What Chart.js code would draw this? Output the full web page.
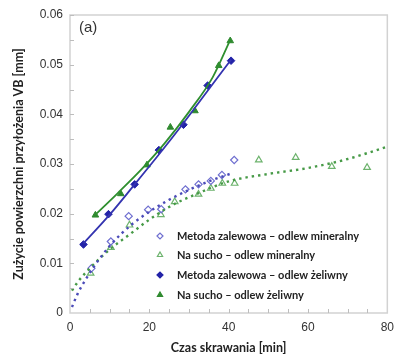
<!DOCTYPE html>
<html>
<head>
<meta charset="utf-8">
<script src="https://cdn.jsdelivr.net/npm/chart.js@4"></script>
<style>
  html, body { margin: 0; padding: 0; background: #fff; }
  #wrap { width: 401px; height: 358px; }
</style>
</head>
<body>
<div id="wrap"><canvas id="myChart" width="401" height="358"></canvas></div>
<script>
// punkty pomiarowe - odlew mineralny, metoda zalewowa
var minZalewX = [5.4, 10.3, 14.8, 19.7, 23.0, 29.1, 32.4, 35.5, 38.3, 41.4];
var minZalewY = [0.0090, 0.0144, 0.0195, 0.0208, 0.0209, 0.0249, 0.0259, 0.0266, 0.0278, 0.0308];
// odlew mineralny, na sucho
var minSuchoX = [5.2, 10.3, 15.0, 22.9, 26.4, 32.4, 35.5, 38.4, 41.5, 47.6, 56.9, 66.0, 74.9];
var minSuchoY = [0.0080, 0.0132, 0.0177, 0.0198, 0.0224, 0.0239, 0.0251, 0.0261, 0.0261, 0.0308, 0.0313, 0.0295, 0.0293];
// odlew zeliwny, metoda zalewowa
var zelZalewX = [3.4, 9.7, 16.3, 22.4, 28.6, 34.7, 40.6];
var zelZalewY = [0.0138, 0.0199, 0.0259, 0.0328, 0.0379, 0.0458, 0.0508];
// odlew zeliwny, na sucho
var zelSuchoX = [6.4, 12.8, 19.4, 25.3, 31.5, 37.5, 40.4];
var zelSuchoY = [0.0197, 0.0240, 0.0298, 0.0374, 0.0407, 0.0498, 0.0548];

// linie trendu
var trMinZalewX = [0.5, 2, 4, 6, 8, 10, 13, 16, 20, 25, 30, 35, 41];
var trMinZalewY = [0.0012, 0.0040, 0.0068, 0.0093, 0.0115, 0.0135, 0.0160, 0.0181, 0.0204, 0.0228, 0.0248, 0.0265, 0.0282];
var trMinSuchoX = [0.5, 2, 5, 10, 15, 20, 26, 32, 40, 50, 60, 70, 80];
var trMinSuchoY = [0.0045, 0.0063, 0.0090, 0.0128, 0.0158, 0.0188, 0.0218, 0.0240, 0.0265, 0.0280, 0.0292, 0.0310, 0.0335];
var trZelZalewX = [3.4, 10, 16, 22, 28, 34, 40.6];
var trZelZalewY = [0.0140, 0.0198, 0.0256, 0.0315, 0.0376, 0.0440, 0.0510];
var trZelSuchoX = [6.4, 12, 18, 24, 30, 36, 40.4];
var trZelSuchoY = [0.0198, 0.0241, 0.0289, 0.0343, 0.0405, 0.0475, 0.0550];

var xTicks = [0, 20, 40, 60, 80];
var yTicks = [0, 0.01, 0.02, 0.03, 0.04, 0.05, 0.06];

var etykiety = [
  'Metoda zalewowa \u2013 odlew mineralny',
  'Na sucho \u2013 odlew mineralny',
  'Metoda zalewowa \u2013 odlew \u017celiwny',
  'Na sucho \u2013 odlew \u017celiwny'
];

function pary(xs, ys) {
  return xs.map(function (x, i) { return { x: x, y: ys[i] }; });
}

var niebieski = '#2323a8';
var zielony = '#2f8a2f';
var niebJasny = '#6f6fd0';
var zielJasny = '#6db36d';

function linia(xs, ys, kolor, kropki) {
  return {
    type: 'line', data: pary(xs, ys), borderColor: kolor,
    borderWidth: kropki ? 2.4 : 1.8, borderDash: kropki ? [2.4, 4] : [],
    pointRadius: 0, tension: 0.4, cubicInterpolationMode: 'monotone', fill: false
  };
}

// ramka, male ticki i etykieta (a)
var ramka = {
  id: 'ramka',
  afterDraw: function (chart) {
    var c = chart.ctx, a = chart.chartArea;
    var sx = chart.scales.x, sy = chart.scales.y;
    c.save();
    c.strokeStyle = '#d2d2d2';
    c.lineWidth = 1.5;
    c.strokeRect(a.left, a.top, a.right - a.left, a.bottom - a.top);
    c.strokeStyle = '#bdbdbd';
    c.lineWidth = 1;
    for (var v = 5; v < 80; v += 5) {
      var px = Math.round(sx.getPixelForValue(v)) + 0.5;
      c.beginPath(); c.moveTo(px, a.bottom); c.lineTo(px, a.bottom - 4); c.stroke();
    }
    for (var w = 0.005; w < 0.06; w += 0.005) {
      var py = Math.round(sy.getPixelForValue(w)) + 0.5;
      c.beginPath(); c.moveTo(a.left, py); c.lineTo(a.left + 4, py); c.stroke();
    }
    c.fillStyle = '#333';
    c.font = '15px "Liberation Sans", Arial, sans-serif';
    c.textBaseline = 'middle';
    c.fillText('(a)', a.left + 9, a.top + 13);

    // legenda
    var mark = [
      { s: 'rectRot', k: niebJasny, f: false },
      { s: 'triangle', k: zielJasny, f: false },
      { s: 'rectRot', k: niebieski, f: true },
      { s: 'triangle', k: zielony, f: true }
    ];
    var ys = [236, 255, 275, 295];
    c.font = 'bold 11px Lato, "Open Sans", sans-serif';
    for (var i = 0; i < etykiety.length; i++) {
      c.fillStyle = mark[i].f ? mark[i].k : '#fff';
      c.strokeStyle = mark[i].k;
      c.lineWidth = 1.2;
      Chart.helpers.drawPoint(c, { pointStyle: mark[i].s, radius: 3, rotation: 0, borderWidth: 1.2 }, 160, ys[i]);
      c.fillStyle = '#222';
      c.fillText(etykiety[i], 177, ys[i] + 0.5);
    }
    c.restore();
  }
};

var ctx = document.getElementById('myChart').getContext('2d');
var myChart = new Chart(ctx, {
  type: 'scatter',
  data: {
    datasets: [
      linia(trMinZalewX, trMinZalewY, '#4b4bb8', true),
      linia(trMinSuchoX, trMinSuchoY, '#479a47', true),
      linia(trZelZalewX, trZelZalewY, '#3434b0', false),
      linia(trZelSuchoX, trZelSuchoY, '#2f8f2f', false),
      { label: etykiety[0], data: pary(minZalewX, minZalewY), pointStyle: 'rectRot', pointRadius: 3.6,
        borderColor: niebJasny, backgroundColor: '#fff', pointBorderWidth: 1.2 },
      { label: etykiety[1], data: pary(minSuchoX, minSuchoY), pointStyle: 'triangle', pointRadius: 3.8,
        borderColor: zielJasny, backgroundColor: '#fff', pointBorderWidth: 1.2 },
      { label: etykiety[2], data: pary(zelZalewX, zelZalewY), pointStyle: 'rectRot', pointRadius: 3.8,
        borderColor: niebieski, backgroundColor: niebieski, pointBorderWidth: 1 },
      { label: etykiety[3], data: pary(zelSuchoX, zelSuchoY), pointStyle: 'triangle', pointRadius: 3.8,
        borderColor: zielony, backgroundColor: zielony, pointBorderWidth: 1 }
    ]
  },
  options: {
    responsive: false,
    animation: false,
    layout: { padding: { top: 15, right: 8, left: 0, bottom: 0 } },
    plugins: { legend: { display: false }, tooltip: { enabled: false } },
    scales: {
      x: {
        type: 'linear', min: 0, max: 80,
        afterFit: function (s) { s.height = 45; },
        afterBuildTicks: function (s) { s.ticks = xTicks.map(function (v) { return { value: v }; }); },
        grid: { display: false, drawTicks: false },
        border: { display: false },
        ticks: { padding: 7, color: '#333', font: { family: '"Liberation Sans", Arial', size: 12 } },
        title: { display: true, text: 'Czas skrawania [min]', color: '#222',
          font: { family: 'Lato, "Open Sans"', size: 12.5, weight: 'bold' }, padding: { top: 0, bottom: 3 } }
      },
      y: {
        type: 'linear', min: 0, max: 0.06,
        afterFit: function (s) { s.width = 70; },
        afterBuildTicks: function (s) { s.ticks = yTicks.map(function (v) { return { value: v }; }); },
        grid: { display: false, drawTicks: false },
        border: { display: false },
        ticks: { padding: 7, color: '#333', font: { family: '"Liberation Sans", Arial', size: 12 },
          callback: function (v) { return v === 0 ? '0' : v.toFixed(2); } },
        title: { display: true, text: 'Zu\u017cycie powierzchni przy\u0142o\u017cenia VB [mm]', color: '#222',
          font: { family: 'Lato, "Open Sans"', size: 12.5, weight: 'bold' }, padding: { top: 11, bottom: 0 } }
      }
    }
  },
  plugins: [ramka]
});
</script>
</body>
</html>
